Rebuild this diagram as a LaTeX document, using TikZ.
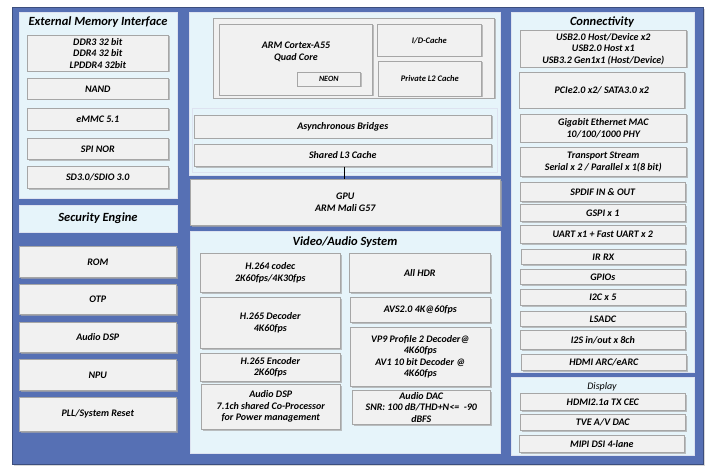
\documentclass[tikz,border=0pt]{standalone}
\usepackage{fontspec}
\setmainfont{Carlito}
\usetikzlibrary{shadows}
\definecolor{outerblue}{HTML}{5670B4}
\definecolor{panel}{HTML}{E6F4FA}
\definecolor{boxfill}{HTML}{F1F1F1}
\tikzset{
  box/.style={draw=gray!70, fill=boxfill, line width=0.6pt, align=center, inner sep=1pt,
    font=\fontsize{10}{11.5}\selectfont\bfseries\itshape,
    drop shadow={shadow xshift=1.2pt,shadow yshift=-1.2pt,fill=gray!70,opacity=.7}},
  pan/.style={draw=white!80!outerblue, fill=panel, line width=0.8pt},
  ttl/.style={font=\fontsize{12.5}{14}\selectfont\bfseries\itshape, inner sep=0pt}
}
\newcommand\bx[6]{\node[box,anchor=north west,minimum width={#4-#2},minimum height={#5-#3}] (#1) at (#2,#3) {#6};}
\newcommand\pn[5]{\node[pan,anchor=north west,minimum width={#4-#2},minimum height={#5-#3},inner sep=0pt] (#1) at (#2,#3) {};}
\begin{document}
\begin{tikzpicture}[x=1pt,y=-1pt]
\useasboundingbox (0,0) rectangle (720,476);
\node[draw=outerblue!70!black,fill=outerblue,anchor=north west,minimum width=691,minimum height=457,inner sep=0pt,
  drop shadow={shadow xshift=1.5pt,shadow yshift=-1.5pt,fill=gray!60}] (outer) at (12,7) {};
% left column
\pn{emi}{19}{12}{177}{198}
\node[ttl] (emit) at (98,22) {External Memory Interface};
\bx{ddr}{27}{35}{168}{71}{DDR3 32 bit\\DDR4 32 bit\\LPDDR4 32bit}
\bx{nand}{27}{78}{168}{99}{NAND}
\bx{emmc}{27}{108}{168}{130}{eMMC 5.1}
\bx{spi}{27}{138}{168}{159}{SPI NOR}
\bx{sd}{27}{166}{168}{188}{SD3.0/SDIO 3.0}
\pn{sec}{19}{205}{177}{232}
\node[ttl] (sect) at (98,218.5) {Security Engine};
\bx{rom}{19}{246}{176}{277}{ROM}
\bx{otp}{19}{284}{176}{314}{OTP}
\bx{adsp}{19}{322}{176}{352}{Audio DSP}
\bx{npu}{19}{359}{176}{390}{NPU}
\bx{pll}{19}{397}{176}{431}{PLL/System Reset}
% middle column
\pn{cpup}{189}{12}{500}{175}
\bx{cpu}{213}{18}{494}{98}{}
\node[box,anchor=north west,minimum width=153,minimum height=71,drop shadow={opacity=0}] (arm) at (219,24) {};
\node[font=\fontsize{10}{12.5}\selectfont\bfseries\itshape,align=center] (armt) at (296,52) {ARM Cortex-A55\\Quad Core};
\bx{neon}{297}{72}{360}{86}{\fontsize{8}{9}\selectfont NEON}
\bx{idc}{377}{24}{481}{56}{\fontsize{8.5}{9}\selectfont I/D-Cache}
\bx{l2}{378}{61}{481}{96}{\fontsize{8.5}{9}\selectfont Private L2 Cache}
\pn{busp}{192}{108}{497}{172}
\bx{async}{194}{115}{491}{138}{Asynchronous Bridges}
\bx{l3}{194}{144}{491}{166}{Shared L3 Cache}
\bx{gpu}{190}{179}{500}{225}{GPU\\ARM Mali G57}
\draw[line width=0.8pt] (l3.south -| 344,0) -- (gpu.north -| 344,0);
\pn{vas}{190}{231}{500}{453}
\node[ttl] (vast) at (345,242) {Video/Audio System};
\bx{h264}{200}{253}{340}{292}{H.264 codec\\2K60fps/4K30fps}
\bx{hdr}{349}{253}{490}{292}{All HDR}
\bx{h265d}{200}{297}{340}{348}{H.265 Decoder\\4K60fps}
\bx{avs}{350}{297}{490}{322}{AVS2.0 4K@60fps}
\bx{h265e}{200}{353}{340}{381}{H.265 Encoder\\2K60fps}
\bx{vp9}{350}{327}{490}{386}{VP9 Profile 2 Decoder@\\4K60fps\\AV1 10 bit Decoder @\\4K60fps}
\bx{vdsp}{201}{384}{340}{429}{Audio DSP\\7.1ch shared Co-Processor\\for Power management}
\bx{dac}{352}{390}{490}{424}{Audio DAC\\SNR: 100 dB/THD+N<=\ \ -90\\dBFS}
% right column
\pn{con}{511}{12}{694}{372}
\node[ttl] (cont) at (602,22) {Connectivity};
\bx{usb}{520}{30}{686}{67}{USB2.0 Host/Device x2\\USB2.0 Host x1\\USB3.2 Gen1x1 (Host/Device)}
\bx{pcie}{519}{72}{684}{108}{PCIe2.0 x2/ SATA3.0 x2}
\bx{gbe}{520}{114}{686}{142}{Gigabit Ethernet MAC\\10/100/1000 PHY}
\bx{ts}{520}{147}{686}{176}{Transport Stream\\Serial x 2 / Parallel x 1(8 bit)}
\bx{spdif}{520}{182}{685}{201}{SPDIF IN \& OUT}
\bx{gspi}{520}{204}{685}{221}{GSPI x 1}
\bx{uart}{520}{225}{685}{243}{UART x1 + Fast UART x 2}
\bx{ir}{521}{249}{685}{264}{IR RX}
\bx{gpio}{520}{269}{685}{284}{GPIOs}
\bx{i2c}{520}{289}{685}{305}{I2C x 5}
\bx{lsadc}{520}{311}{685}{326}{LSADC}
\bx{i2s}{520}{330}{685}{349}{I2S in/out x 8ch}
\bx{arc}{521}{354}{686}{370}{HDMI ARC/eARC}
\pn{disp}{511}{377}{694}{455}
\node[font=\fontsize{10}{11}\selectfont\itshape] (dispt) at (602,387) {Display};
\bx{hdmi}{520}{393}{685}{410}{HDMI2.1a TX CEC}
\bx{tve}{520}{414}{685}{430}{TVE A/V DAC}
\bx{mipi}{519}{435}{684}{452}{MIPI DSI 4-lane}
\end{tikzpicture}
\end{document}
